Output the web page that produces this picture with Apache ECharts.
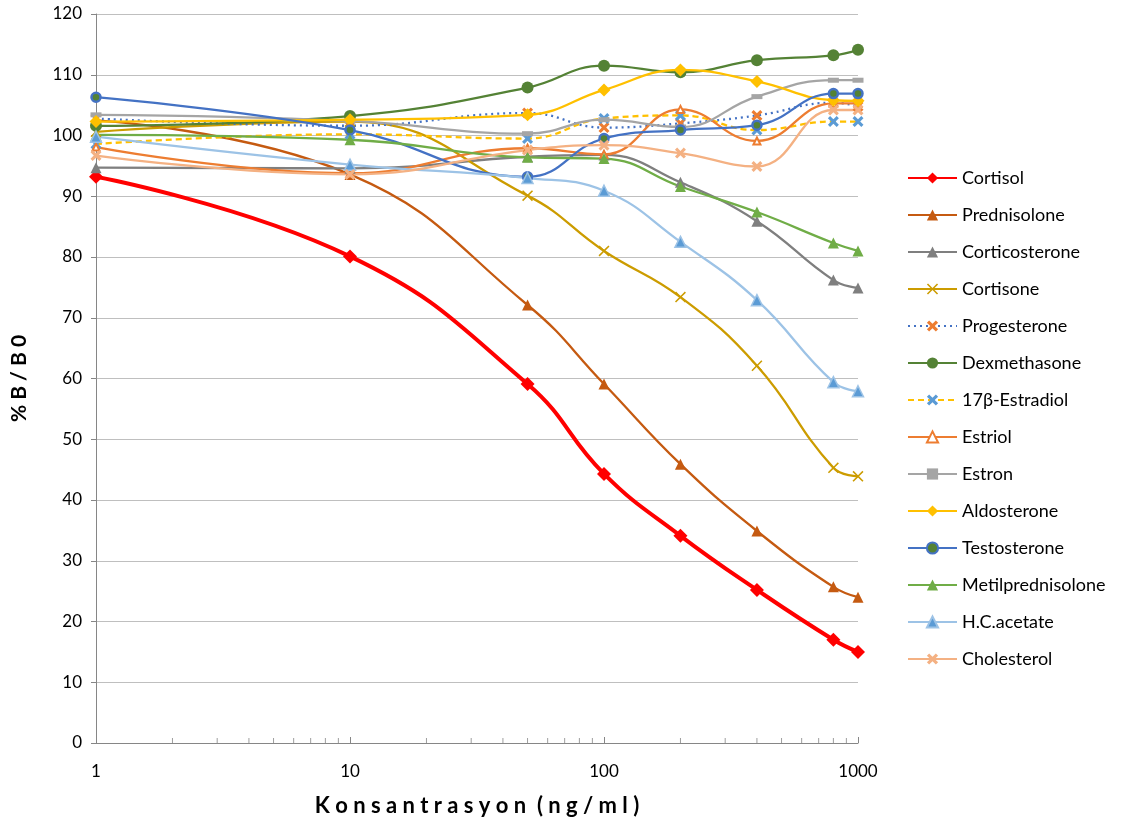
<!DOCTYPE html>
<html>
<head>
<meta charset="utf-8">
<script src="https://cdn.jsdelivr.net/npm/echarts@6/dist/echarts.min.js"></script>
<style>
  html, body { margin: 0; padding: 0; background: #fff; }
  #main { width: 1132px; height: 829px; }
</style>
</head>
<body>
<div id="main"></div>
<script>
// concentration points (ng/ml)
const conc = [1, 10, 50, 100, 200, 400, 800, 1000];
const minorTicks = [2, 3, 4, 5, 6, 7, 8, 9, 20, 30, 40, 50, 60, 70, 80, 90, 200, 300, 400, 500, 600, 700, 800, 900];

// % B/B0 per steroid
const cortisol = [93.2, 80.1, 59.1, 44.3, 34.1, 25.2, 17.0, 15.0];
const prednisolone = [102.5, 93.6, 72.1, 59.1, 45.9, 34.9, 25.7, 24.0];
const corticosterone = [94.7, 94.6, 96.5, 96.8, 92.3, 85.9, 76.2, 74.9];
const cortisone = [100.6, 102.3, 90.1, 81.0, 73.4, 62.1, 45.3, 43.9];
const progesterone = [102.8, 101.6, 103.7, 101.3, 102.0, 103.3, 105.4, 104.8];
const dexmethasone = [101.6, 103.2, 107.9, 111.5, 110.4, 112.4, 113.2, 114.1];
const estradiol = [98.6, 100.2, 99.5, 102.8, 103.3, 100.9, 102.3, 102.3];
const estriol = [98.1, 93.8, 97.9, 96.9, 104.3, 99.1, 105.3, 105.3];
const estron = [103.4, 102.4, 100.3, 102.6, 101.4, 106.4, 109.1, 109.1];
const aldosterone = [102.3, 102.6, 103.4, 107.5, 110.8, 108.9, 105.8, 105.7];
const testosterone = [106.3, 100.9, 93.2, 99.5, 100.9, 101.7, 106.9, 106.9];
const metilprednisolone = [100.1, 99.3, 96.4, 96.2, 91.6, 87.4, 82.3, 81.0];
const hcAcetate = [99.8, 95.2, 93.0, 90.9, 82.5, 72.9, 59.4, 57.9];
const cholesterol = [96.7, 93.6, 97.6, 98.4, 97.1, 94.9, 104.2, 104.2];

const crossThin = 'path://M1,0 L5,4 L9,0 L10,1 L6,5 L10,9 L9,10 L5,6 L1,10 L0,9 L4,5 L0,1 Z';
const crossFat = 'path://M2,0 L5,3 L8,0 L10,2 L7,5 L10,8 L8,10 L5,7 L2,10 L0,8 L3,5 L0,2 Z';

const pts = vals => conc.map((c, i) => [c, vals[i]]);

function line(name, vals, color, symbol, size, extra) {
  return Object.assign({
    name: name,
    type: 'line',
    smooth: 0.45,
    data: pts(vals),
    symbol: symbol,
    symbolSize: size,
    lineStyle: { color: color, width: 2.3 },
    itemStyle: { color: color },
    emphasis: { disabled: true }
  }, extra || {});
}

const chartDom = document.getElementById('main');
const myChart = echarts.init(chartDom);

const series = [
  line('Cortisol', cortisol, '#FF0000', 'diamond', 14, { lineStyle: { color: '#FF0000', width: 4 } }),
  line('Prednisolone', prednisolone, '#C55A11', 'triangle', 11),
  line('Corticosterone', corticosterone, '#7F7F7F', 'triangle', 11),
  line('Cortisone', cortisone, '#CC9C00', crossThin, 11),
  line('Progesterone', progesterone, '#4472C4', crossFat, 11, {
    lineStyle: { color: '#4472C4', width: 2.3, type: [2, 4] },
    itemStyle: { color: '#ED7D31' }
  }),
  line('Dexmethasone', dexmethasone, '#548235', 'circle', 12),
  line('17β-Estradiol', estradiol, '#FFC000', crossFat, 11, {
    lineStyle: { color: '#FFC000', width: 2.3, type: [6, 4] },
    itemStyle: { color: '#5B9BD5' }
  }),
  line('Estriol', estriol, '#ED7D31', 'emptyTriangle', 7),
  line('Estron', estron, '#A5A5A5', 'rect', [11, 5]),
  line('Aldosterone', aldosterone, '#FFC000', 'diamond', 13),
  line('Testosterone', testosterone, '#4472C4', 'circle', 9, {
    itemStyle: { color: '#548235', borderColor: '#4472C4', borderWidth: 2.5 }
  }),
  line('Metilprednisolone', metilprednisolone, '#70AD47', 'triangle', 11),
  line('H.C.acetate', hcAcetate, '#9DC3E6', 'triangle', 11, {
    itemStyle: { color: '#5B9BD5', borderColor: '#9DC3E6', borderWidth: 1.5 }
  }),
  line('Cholesterol', cholesterol, '#F4B183', crossFat, 11),
  {
    name: 'minor',
    type: 'scatter',
    silent: true,
    data: minorTicks.map(v => [v, 0]),
    symbol: 'rect',
    symbolSize: [1, 5],
    symbolOffset: [0, -2.5],
    itemStyle: { color: '#868686' },
    z: 1
  }
];

const option = {
  animation: false,
  textStyle: { fontFamily: 'Lato, "Noto Sans", sans-serif' },
  grid: { left: 96, right: 274, top: 14, bottom: 86 },
  legend: {
    orient: 'vertical',
    left: 907,
    top: 169,
    padding: 0,
    itemWidth: 49,
    itemHeight: 14,
    itemGap: 19,
    textStyle: { fontSize: 18, color: '#000', lineHeight: 16 },
    data: series.filter(s => s.type === 'line').map(s => s.name)
  },
  xAxis: {
    type: 'log',
    logBase: 10,
    min: 1,
    max: 1000,
    name: 'K o n s a n t r a s y o n  ( n g / m l )',
    nameLocation: 'middle',
    nameGap: 52,
    nameTextStyle: { fontSize: 22, fontWeight: 'bold', color: '#000' },
    axisLine: { lineStyle: { color: '#868686' } },
    axisTick: { inside: true, length: 6, lineStyle: { color: '#868686' } },
    axisLabel: { fontSize: 17, color: '#000', margin: 20, formatter: v => String(v) },
    splitLine: { show: false }
  },
  yAxis: {
    type: 'value',
    min: 0,
    max: 120,
    interval: 10,
    name: '% B / B 0',
    nameLocation: 'middle',
    nameGap: 66,
    nameTextStyle: { fontSize: 21, fontWeight: 'bold', color: '#000' },
    axisLine: { show: true, lineStyle: { color: '#868686' } },
    axisTick: { show: true, length: 5, lineStyle: { color: '#868686' } },
    axisLabel: { fontSize: 17, color: '#000', margin: 14 },
    splitLine: { lineStyle: { color: '#BFBFBF', width: 1 } }
  },
  series: series
};

option && myChart.setOption(option);
</script>
</body>
</html>
